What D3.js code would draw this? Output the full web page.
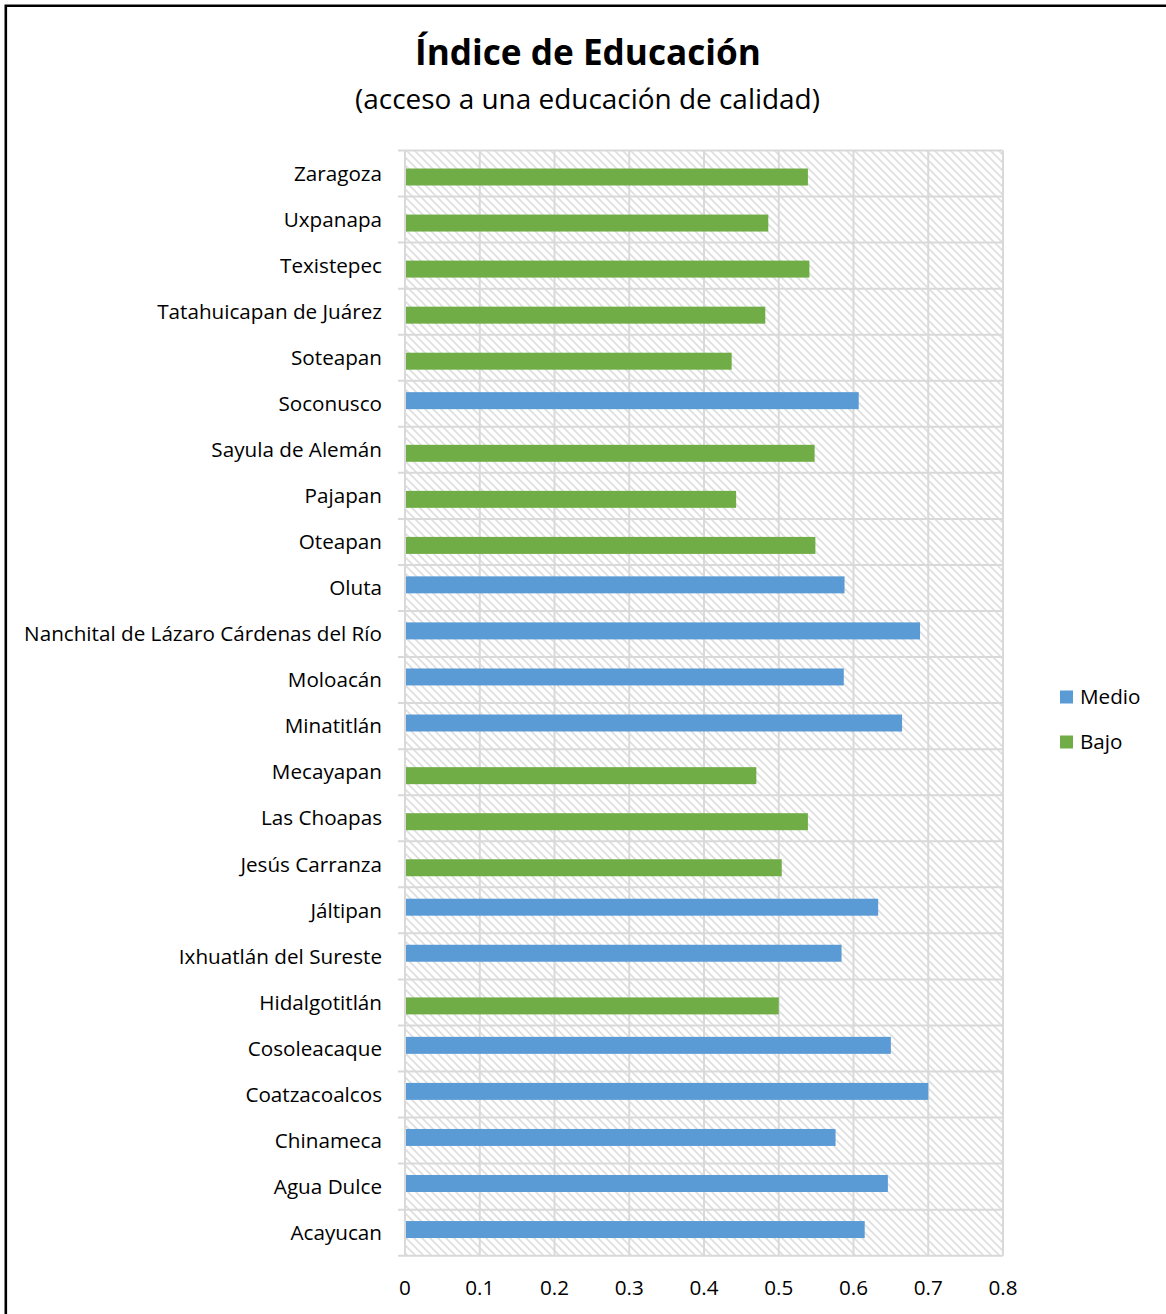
<!DOCTYPE html>
<html><head><meta charset="utf-8">
<script src="https://cdn.jsdelivr.net/npm/d3@7"></script>
<style>body{margin:0;background:#fff}svg{display:block}</style>
</head><body>
<svg id="c" width="1166" height="1314"></svg>
<script>
const categories = ["Zaragoza","Uxpanapa","Texistepec","Tatahuicapan de Juárez","Soteapan","Soconusco","Sayula de Alemán","Pajapan","Oteapan","Oluta","Nanchital de Lázaro Cárdenas del Río","Moloacán","Minatitlán","Mecayapan","Las Choapas","Jesús Carranza","Jáltipan","Ixhuatlán del Sureste","Hidalgotitlán","Cosoleacaque","Coatzacoalcos","Chinameca","Agua Dulce","Acayucan"];
const medio = [0,0,0,0,0,0.607,0,0,0,0.588,0.689,0.587,0.665,0,0,0,0.633,0.584,0,0.650,0.700,0.576,0.646,0.615];
const bajo  = [0.539,0.486,0.541,0.482,0.437,0,0.548,0.443,0.549,0,0,0,0,0.470,0.539,0.504,0,0,0.500,0,0,0,0,0];
const seriesNames = ["Medio","Bajo"];
const seriesColors = ["#5B9BD5","#70AD47"];
const xTicks = [0,0.1,0.2,0.3,0.4,0.5,0.6,0.7,0.8];
const title = "Índice de Educación";
const subtitle = "(acceso a una educación de calidad)";

const FONT = "'Open Sans', 'Noto Sans', sans-serif";
const svg = d3.select("#c");
const defs = svg.append("defs");
const pat = defs.append("pattern").attr("id","hatch").attr("patternUnits","userSpaceOnUse")
  .attr("width",8).attr("height",8);
pat.append("rect").attr("width",8).attr("height",8).attr("fill","#fff");
pat.append("path").attr("d","M-2,-2 L10,10 M-2,6 L2,10 M6,-2 L10,2")
  .attr("stroke","#dedede").attr("stroke-width",1.7);

// frame
svg.append("path").attr("d","M5.8,1314 V5.8 H1166").attr("fill","none").attr("stroke","#000").attr("stroke-width",2.6);

const L = 405, R = 1003, T = 150.5, B = 1255.7;
const x = d3.scaleLinear().domain([0,0.8]).range([L,R]);
const y = d3.scaleBand().domain(categories).range([T,B]).padding(0);
const bw = y.bandwidth();

// background
svg.append("rect").attr("x",L).attr("y",T).attr("width",R-L).attr("height",B-T).attr("fill","url(#hatch)");

// vertical gridlines
svg.append("g").selectAll("line").data(xTicks).join("line")
  .attr("x1",d=>x(d)).attr("x2",d=>x(d)).attr("y1",T).attr("y2",B)
  .attr("stroke","#d9d9d9").attr("stroke-width",2);
// horizontal gridlines (band boundaries), extending left as tick marks
const bounds = categories.map(c=>y(c)).concat([B]);
svg.append("g").selectAll("line").data(bounds).join("line")
  .attr("x1",L-7).attr("x2",R).attr("y1",d=>d).attr("y2",d=>d)
  .attr("stroke","#d9d9d9").attr("stroke-width",2);

// bars
const offs = [0.2476, 0.391], bh = 0.369;
[medio,bajo].forEach((vals,si)=>{
  svg.append("g").selectAll("rect").data(categories.map((c,i)=>({c,v:vals[i]})).filter(d=>d.v>0)).join("rect")
    .attr("x",x(0)+1).attr("y",d=>y(d.c)+offs[si]*bw)
    .attr("width",d=>x(d.v)-x(0)-1).attr("height",bh*bw)
    .attr("fill",seriesColors[si]);
});

// y labels
const ylab = svg.append("g").attr("font-family",FONT).attr("fill","#000");
const labs = ylab.selectAll("text").data(categories).join("text")
  .attr("x",382).attr("y",d=>y(d)+bw/2).attr("dy","0.35em").attr("text-anchor","end")
  .attr("font-size",20).text(d=>d);
const longest = labs.filter(d=>d.startsWith("Nanchital")).node().getComputedTextLength();
const fs = 20*358/longest;
labs.attr("font-size",fs);

// x tick labels
svg.append("g").attr("font-family",FONT).selectAll("text").data(xTicks).join("text")
  .attr("x",d=>x(d)).attr("y",1288).attr("dy","0.35em").attr("text-anchor","middle")
  .attr("font-size",fs).text(d=>d3.format("")(d));

// legend
const lg = svg.append("g").attr("font-family",FONT);
seriesNames.forEach((s,i)=>{
  const cy = 697 + i*45;
  lg.append("rect").attr("x",1060).attr("y",cy-6.5).attr("width",13).attr("height",13).attr("fill",seriesColors[i]);
  lg.append("text").attr("x",1080).attr("y",cy).attr("dy","0.35em").attr("font-size",fs).text(s);
});

// titles
const t1 = svg.append("text").attr("x",588).attr("y",53).attr("dy","0.35em").attr("text-anchor","middle")
  .attr("font-family",FONT).attr("font-weight","bold").attr("font-size",36).text(title);
t1.attr("font-size",36*346/t1.node().getComputedTextLength());
const t2 = svg.append("text").attr("x",587.5).attr("y",99).attr("dy","0.35em").attr("text-anchor","middle")
  .attr("font-family",FONT).attr("font-size",27).text(subtitle);
t2.attr("font-size",27*465/t2.node().getComputedTextLength());
</script>
</body></html>
